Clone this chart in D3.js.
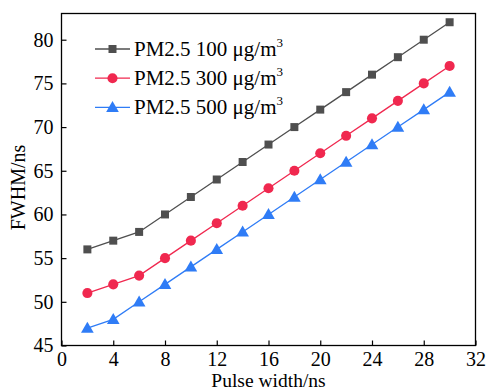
<!DOCTYPE html>
<html><head><meta charset="utf-8">
<script src="https://cdn.jsdelivr.net/npm/d3@7"></script>
<style>body{margin:0;background:#fff}svg{display:block}text{font-family:"Liberation Serif","Times New Roman",serif;fill:#000}</style>
</head><body><svg id="c" width="488" height="389"></svg>
<script>
const pulseWidth = [2,4,6,8,10,12,14,16,18,20,22,24,26,28,30];
const pm100 = [56,57,58,60,62,64,66,68,70,72,74,76,78,80,82];
const pm300 = [51,52,53,55,57,59,61,63,65,67,69,71,73,75,77];
const pm500 = [47,48,50,52,54,56,58,60,62,64,66,68,70,72,74];
const xTicks = [0,4,8,12,16,20,24,28,32];
const yTicks = [45,50,55,60,65,70,75,80];
const seriesNames = ["PM2.5 100 μg/m", "PM2.5 300 μg/m", "PM2.5 500 μg/m"];

const svg = d3.select("#c");
const L=61.5, R=475.5, T=13.5, B=345.5;
const x = d3.scaleLinear().domain([0,32]).range([L,R]);
const y = d3.scaleLinear().domain([45,83]).range([B,T]);

const series = [
  {name:seriesNames[0], vals:pm100, color:"#4f4f4f", sym:d3.symbolSquare, size:64},
  {name:seriesNames[1], vals:pm300, color:"#f0284f", sym:d3.symbolCircle, size:80},
  {name:seriesNames[2], vals:pm500, color:"#2f7cf6", sym:d3.symbolTriangle, size:70}
];

// axes
const xAxis = d3.axisBottom(x).tickValues(xTicks).tickSizeInner(-5).tickSizeOuter(0).tickPadding(6);
const yAxis = d3.axisLeft(y).tickValues(yTicks).tickSizeInner(-5).tickSizeOuter(0).tickPadding(8);
const gx = svg.append("g").attr("transform",`translate(0,${B})`).call(xAxis);
const gy = svg.append("g").attr("transform",`translate(${L},0)`).call(yAxis);
[gx,gy].forEach(g=>{g.attr("font-family",null);g.select(".domain").remove();g.selectAll("line").attr("stroke","#000").attr("stroke-width",1.2);
  g.selectAll("text").attr("font-size",20);});
svg.append("rect").attr("x",L).attr("y",T).attr("width",R-L).attr("height",B-T).attr("fill","none").attr("stroke","#000").attr("stroke-width",1.3);

// labels
svg.append("text").attr("x",(L+R)/2).attr("y",387).attr("text-anchor","middle").attr("font-size",19.5).text("Pulse width/ns");
svg.append("text").attr("transform",`translate(25,${(T+B)/2+8}) rotate(-90)`).attr("text-anchor","middle").attr("font-size",20).text("FWHM/ns");

// lines & markers
const line = d3.line().x((d,i)=>x(pulseWidth[i])).y(d=>y(d));
series.forEach(s=>{
  svg.append("path").datum(s.vals).attr("d",line).attr("fill","none").attr("stroke",s.color).attr("stroke-width",1.3);
  svg.selectAll(null).data(s.vals).enter().append("path")
    .attr("d",d3.symbol().type(s.sym).size(s.size))
    .attr("transform",(d,i)=>`translate(${x(pulseWidth[i])},${y(d)+(s.sym===d3.symbolTriangle?1:0)})`)
    .attr("fill",s.color);
});

// legend
series.forEach((s,i)=>{
  const ly = 49 + i*29.2;
  const g = svg.append("g");
  g.append("line").attr("x1",95).attr("x2",130).attr("y1",ly).attr("y2",ly).attr("stroke",s.color).attr("stroke-width",1.3);
  g.append("path").attr("d",d3.symbol().type(s.sym).size(s.size)).attr("transform",`translate(112.5,${ly+(s.sym===d3.symbolTriangle?1:0)})`).attr("fill",s.color);
  const t = g.append("text").attr("x",134).attr("y",ly+7).attr("font-size",21).text(s.name);
  t.append("tspan").attr("font-size",13).attr("dy",-9).text("3");
});
</script></body></html>
